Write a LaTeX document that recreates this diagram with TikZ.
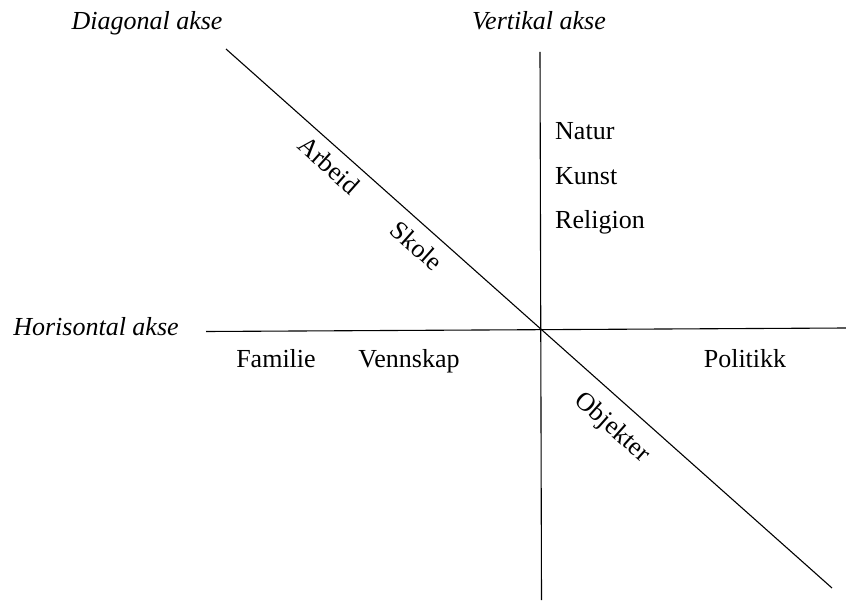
\documentclass[tikz,border=0pt]{standalone}
\usepackage{fontspec}
\setmainfont{Liberation Serif}
\begin{document}
\begin{tikzpicture}[x=1pt,y=-1pt,
  axis/.style={line width=1.1pt,black},
  lbl/.style={font=\fontsize{26}{30}\selectfont,inner sep=0pt},
  axlbl/.style={lbl,font=\fontsize{26}{30}\selectfont\itshape},
  dlbl/.style={lbl,rotate=-41.7,anchor=center}]
\useasboundingbox (0,0) rectangle (846,604);
% axes end points
\coordinate (hl) at (206,331.5);
\coordinate (hr) at (846,328);
\coordinate (vt) at (540,52);
\coordinate (vb) at (541.5,600);
\coordinate (dt) at (226,49);
\coordinate (db) at (832,588);
\draw[axis] (hl) -- (hr);
\draw[axis] (vt) -- (vb);
\draw[axis] (dt) -- (db);
% axis titles
\node[axlbl,anchor=base] (tdiag) at (147,30) {Diagonal akse};
\node[axlbl,anchor=base] (tvert) at (539,30) {Vertikal akse};
\node[axlbl,anchor=base] (thor) at (96,335) {Horisontal akse};
% vertical axis items
\node[lbl,anchor=base west] (natur) at (555,140) {Natur};
\node[lbl,anchor=base west] (kunst) at (555,185) {Kunst};
\node[lbl,anchor=base west] (relig) at (555,229) {Religion};
% horizontal axis items
\node[lbl,anchor=base] (fam) at (276,367) {Familie};
\node[lbl,anchor=base] (venn) at (409,367) {Vennskap};
\node[lbl,anchor=base] (pol) at (745,367) {Politikk};
% diagonal axis items
\node[dlbl] (arb) at (329,165) {Arbeid};
\node[dlbl] (sko) at (417,246) {Skole};
\node[dlbl] (obj) at (612,428) {Objekter};
\end{tikzpicture}
\end{document}
